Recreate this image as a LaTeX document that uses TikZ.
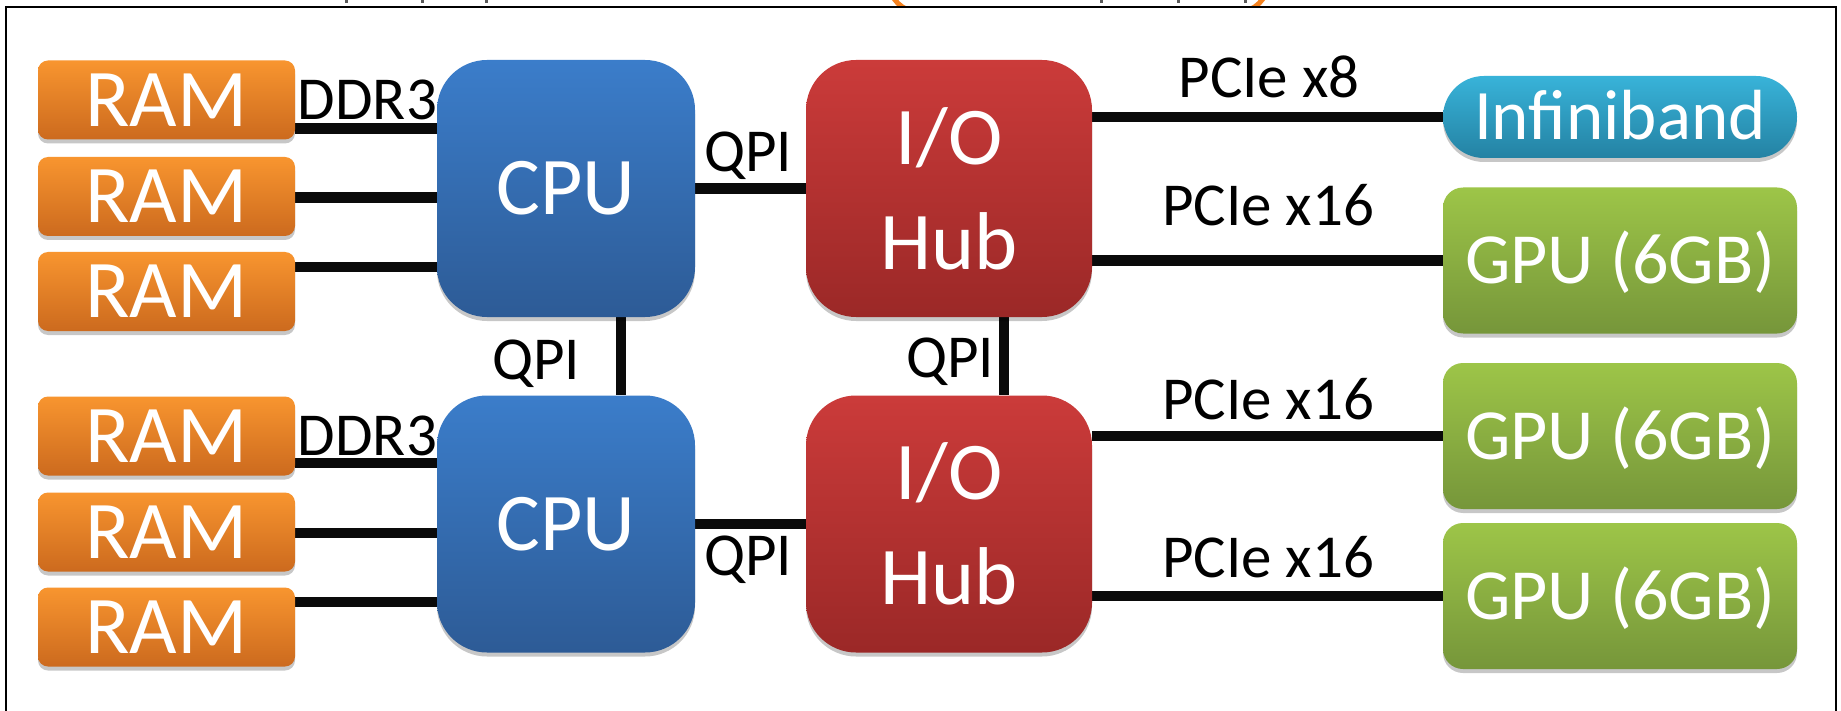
\documentclass[tikz,border=0pt]{standalone}
\usepackage{fontspec}
\setmainfont{Carlito}
\usetikzlibrary{shadows,calc}
\pgfdeclarelayer{background}
\pgfsetlayers{background,main}
\definecolor{ramtop}{HTML}{F8952F}
\definecolor{rambot}{HTML}{CC6A1E}
\definecolor{cputop}{HTML}{3B7DCA}
\definecolor{cpubot}{HTML}{2D5B96}
\definecolor{iohtop}{HTML}{CB3B3A}
\definecolor{iohbot}{HTML}{9B2827}
\definecolor{ibtop}{HTML}{38B3D9}
\definecolor{ibbot}{HTML}{2482A3}
\definecolor{gputop}{HTML}{9DC548}
\definecolor{gpubot}{HTML}{76963A}
\definecolor{slideorange}{HTML}{F5821F}
\definecolor{linkcol}{HTML}{0A0A0A}
\tikzset{
  box/.style={draw=none, inner sep=0pt, text=white,
    drop shadow={shadow xshift=0pt, shadow yshift=-2pt, opacity=0.22, fill=black}},
  ramstyle/.style={box, rounded corners=5pt, minimum width=128.5pt, minimum height=39.5pt,
    top color=ramtop, bottom color=rambot,
    font=\fontsize{41}{41}\selectfont, text height=26.4pt, text depth=0pt},
  cpustyle/.style={box, rounded corners=25pt, minimum width=129pt, minimum height=128.5pt,
    top color=cputop, bottom color=cpubot,
    font=\fontsize{41}{41}\selectfont, text height=26.4pt, text depth=0pt},
  iohstyle/.style={box, rounded corners=25pt, minimum width=143pt, minimum height=128.5pt,
    top color=iohtop, bottom color=iohbot, align=center,
    font=\fontsize{41}{52.5}\selectfont},
  ibstyle/.style={box, rounded corners=20.5pt, minimum width=177pt, minimum height=41pt,
    top color=ibtop, bottom color=ibbot,
    font=\fontsize{35.5}{35.5}\selectfont, text height=22.9pt, text depth=0pt},
  gpustyle/.style={box, rounded corners=10pt, minimum width=177pt, minimum height=73pt,
    top color=gputop, bottom color=gpubot,
    font=\fontsize{36}{36}\selectfont, text height=23.2pt, text depth=0pt},
  link/.style={line width=5.4pt, draw=linkcol},
  lbl/.style={font=\fontsize{30.5}{30.5}\selectfont, anchor=base, inner sep=0pt, text=black},
  framestyle/.style={line width=1.25pt, draw=black},
  tick/.style={fill=black!65, draw=none}
}
\begin{document}
\begin{tikzpicture}[x=0.5pt,y=-0.5pt]
\useasboundingbox (0,0) rectangle (1841,711);
\clip (0,0) rectangle (1841,711);

% remains of the slide above the frame
\begin{scope}
  \clip (0,0) rectangle (1841,6.5);
  \draw[line width=2.5pt, draw=slideorange, rounded corners=15pt] (889,-60) rectangle (1268,12);
\end{scope}
\foreach \tx in {345,421,485,1100,1177,1244}{
  \fill[tick] (\tx,0) rectangle ++(2.5,3.5);
}

% frame
\draw[framestyle] (6,800) -- (6,7) -- (1836,7) -- (1836,800);

% RAM
\node[ramstyle] (ram1) at (166.5,100) {RAM};
\node[ramstyle] (ram2) at (166.5,196.5) {RAM};
\node[ramstyle] (ram3) at (166.5,291.5) {RAM};
\node[ramstyle] (ram4) at (166.5,436) {RAM};
\node[ramstyle] (ram5) at (166.5,532) {RAM};
\node[ramstyle] (ram6) at (166.5,627) {RAM};

% CPUs
\node[cpustyle] (cpu1) at (566,188.5) {CPU};
\node[cpustyle] (cpu2) at (566,524) {CPU};

% I/O hubs
\node[iohstyle] (ioh1) at (949,188.5) {I/O\\Hub};
\node[iohstyle] (ioh2) at (949,524) {I/O\\Hub};

% devices
\node[ibstyle] (ib) at (1620,117) {Infiniband};
\node[gpustyle] (gpu1) at (1620,260.5) {GPU (6GB)};
\node[gpustyle] (gpu2) at (1620,436) {GPU (6GB)};
\node[gpustyle] (gpu3) at (1620,596) {GPU (6GB)};

% helper coordinates for connector heights / positions
\coordinate (y1) at (0,128.7);
\coordinate (y2) at (0,197.7);
\coordinate (y3) at (0,267);
\coordinate (y4) at (0,463);
\coordinate (y5) at (0,533);
\coordinate (y6) at (0,602);
\coordinate (vx1) at (621,0);
\coordinate (vx2) at (1004,0);

\begin{pgfonlayer}{background}
  \fill[white] (0,0) rectangle (1841,711);
  \draw[link] (ram1.east |- y1) -- (cpu1.west |- y1);
  \draw[link] (ram2.east |- y2) -- (cpu1.west |- y2);
  \draw[link] (ram3.east |- y3) -- (cpu1.west |- y3);
  \draw[link] (ram4.east |- y4) -- (cpu2.west |- y4);
  \draw[link] (ram5.east |- y5) -- (cpu2.west |- y5);
  \draw[link] (ram6.east |- y6) -- (cpu2.west |- y6);
  \draw[link] (cpu1.east) -- (ioh1.west);
  \draw[link] (cpu2.east) -- (ioh2.west);
  \draw[link] (cpu1.south -| vx1) -- (cpu2.north -| vx1);
  \draw[link] (ioh1.south -| vx2) -- (ioh2.north -| vx2);
  \draw[link] (ioh1.east |- ib) -- (ib.west);
  \draw[link] (ioh1.east |- gpu1) -- (gpu1.west);
  \draw[link] (ioh2.east |- gpu2) -- (gpu2.west);
  \draw[link] (ioh2.east |- gpu3) -- (gpu3.west);
\end{pgfonlayer}

% labels
\node[lbl] (lddr1) at (367.5,120) {DDR3};
\node[lbl] (lddr2) at (367.5,455) {DDR3};
\node[lbl] (lqpi1) at (748,172) {QPI};
\node[lbl] (lqpi2) at (748,575) {QPI};
\node[lbl] (lqpi3) at (536,379) {QPI};
\node[lbl] (lqpi4) at (950,377) {QPI};
\node[lbl] (lpcie1) at (1269,98) {PCIe x8};
\node[lbl] (lpcie2) at (1268,226) {PCIe x16};
\node[lbl] (lpcie3) at (1268,419) {PCIe x16};
\node[lbl] (lpcie4) at (1268,577) {PCIe x16};
\end{tikzpicture}
\end{document}
